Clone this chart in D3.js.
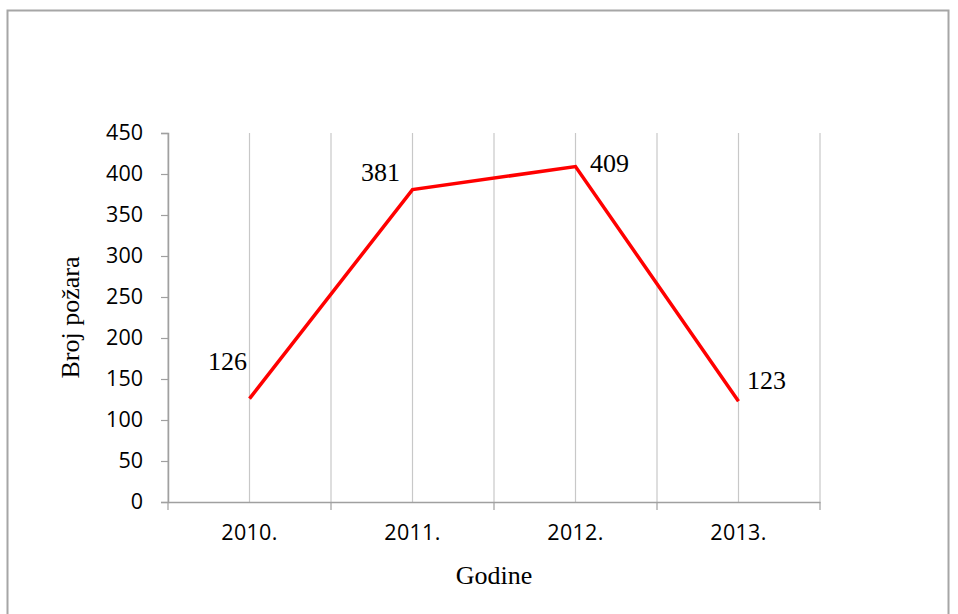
<!DOCTYPE html>
<html>
<head>
<meta charset="utf-8">
<script src="https://cdn.jsdelivr.net/npm/d3@7"></script>
<style>
  body { margin: 0; background: #fff; }
</style>
</head>
<body>
<div id="chart"></div>
<script>
const years = ["2010.", "2011.", "2012.", "2013."];
const fires = [126, 381, 409, 123];
const yTicks = [0, 50, 100, 150, 200, 250, 300, 350, 400, 450];

const width = 958, height = 614;
const margin = { left: 168, right: 138, top: 133, bottom: 112 };
const sansFont = "'Open Sans', Carlito, sans-serif";
const serifFont = "'Liberation Serif', 'Times New Roman', serif";

const svg = d3.select("#chart").append("svg")
    .attr("width", width)
    .attr("height", height);

// outer frame
svg.append("rect")
    .attr("x", 7.5).attr("y", 10.5)
    .attr("width", 941).attr("height", 610)
    .attr("fill", "none")
    .attr("stroke", "#a6a6a6")
    .attr("stroke-width", 2);

const x = d3.scaleBand()
    .domain(years)
    .range([margin.left, width - margin.right]);

const y = d3.scaleLinear()
    .domain([0, 450])
    .range([height - margin.bottom, margin.top]);

const g = svg.append("g");

// vertical gridlines at category edges and centers
const gridX = [];
years.forEach(d => {
    gridX.push(x(d));
    gridX.push(x(d) + x.bandwidth() / 2);
});
gridX.push(x.range()[1]);
g.selectAll(".grid")
    .data(gridX)
    .enter().append("line")
    .attr("x1", d => d).attr("x2", d => d)
    .attr("y1", y(450)).attr("y2", y(0))
    .attr("stroke", "#c8c8c8")
    .attr("stroke-width", 1.2);

// y axis
const yAxis = d3.axisLeft(y).tickValues(yTicks).tickSize(7).tickPadding(18);
const ya = svg.append("g")
    .attr("transform", `translate(${margin.left},0)`)
    .call(yAxis);
ya.select(".domain").attr("stroke", "#a0a0a0").attr("stroke-width", 1.5);
ya.selectAll(".tick line").attr("stroke", "#a0a0a0").attr("stroke-width", 1.2);
ya.selectAll("text")
    .style("font-family", sansFont)
    .style("font-size", "21.5px")
    .attr("fill", "#000");

// x axis
const xAxis = d3.axisBottom(x).tickSize(0).tickPadding(23);
const xa = svg.append("g")
    .attr("transform", `translate(0,${y(0)})`)
    .call(xAxis);
xa.select(".domain").attr("stroke", "#a0a0a0").attr("stroke-width", 1.5);
xa.selectAll("text")
    .style("font-family", sansFont)
    .style("font-size", "21.5px")
    .style("letter-spacing", "0.3px")
    .attr("fill", "#000");
// boundary ticks
xa.selectAll(".edge")
    .data(years.map(d => x(d)).concat([x.range()[1]]))
    .enter().append("line")
    .attr("x1", d => d).attr("x2", d => d)
    .attr("y1", 0).attr("y2", 8)
    .attr("stroke", "#a0a0a0")
    .attr("stroke-width", 1.2);

// line
const line = d3.line()
    .x((d, i) => x(years[i]) + x.bandwidth() / 2)
    .y(d => y(d));

svg.append("path")
    .datum(fires)
    .attr("d", line)
    .attr("fill", "none")
    .attr("stroke", "#ff0000")
    .attr("stroke-width", 3.5)
    .attr("stroke-linejoin", "miter");

// data labels
const labelOffsets = [[-22, -29], [-32, -9], [34, 5], [28, -12]];
svg.selectAll(".lbl")
    .data(fires)
    .enter().append("text")
    .attr("x", (d, i) => x(years[i]) + x.bandwidth() / 2 + labelOffsets[i][0])
    .attr("y", (d, i) => y(d) + labelOffsets[i][1])
    .attr("text-anchor", "middle")
    .style("font-family", serifFont)
    .style("font-size", "26px")
    .text(d => d);

// axis titles
svg.append("text")
    .attr("transform", `translate(79,${(y(0) + y(450)) / 2}) rotate(-90)`)
    .attr("text-anchor", "middle")
    .style("font-family", serifFont)
    .style("font-size", "26px")
    .text("Broj požara");

svg.append("text")
    .attr("x", (x.range()[0] + x.range()[1]) / 2)
    .attr("y", 584)
    .attr("text-anchor", "middle")
    .style("font-family", serifFont)
    .style("font-size", "26px")
    .text("Godine");
</script>
</body>
</html>
